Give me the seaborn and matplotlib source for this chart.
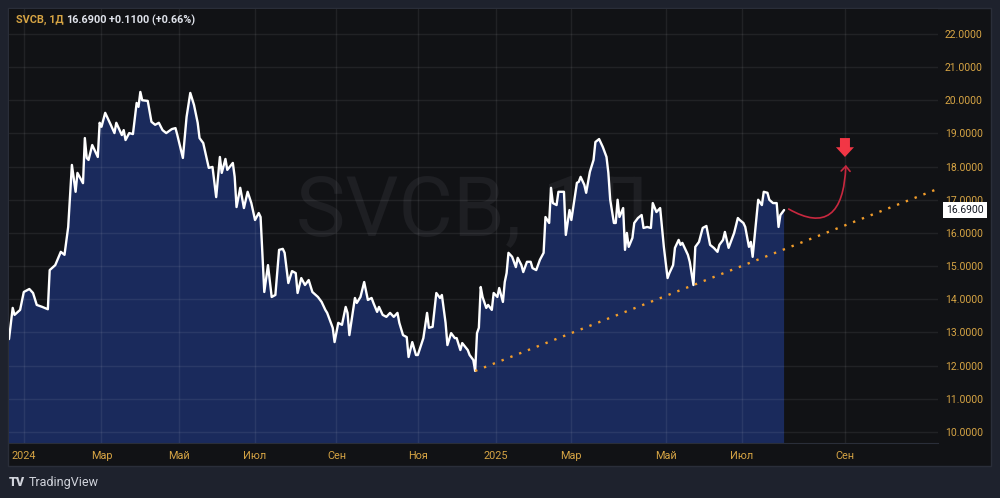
import numpy as np
import pandas as pd
import matplotlib
matplotlib.use("Agg")
import matplotlib.pyplot as plt
import matplotlib.transforms as mtransforms
from matplotlib.path import Path
from matplotlib.patches import FancyArrowPatch, Rectangle
import seaborn as sns

# daily close of SVCB (session = trading-day number from the left edge)
session = [0, 2, 3, 6, 8, 11, 13, 15, 18, 21,
           22, 25, 28, 30, 32, 34, 36, 37, 40, 41,
           42, 43, 45, 48, 49, 50, 52, 55, 57, 58,
           61, 62, 63, 65, 67, 69, 70, 71, 72, 75,
           77, 79, 81, 83, 85, 88, 90, 91, 94, 96,
           98, 100, 102, 103, 105, 108, 110, 112, 114, 115,
           117, 118, 121, 122, 123, 125, 127, 129, 131, 133,
           135, 136, 138, 140, 142, 144, 146, 148, 149, 151,
           153, 155, 156, 158, 160, 162, 164, 167, 169, 171,
           172, 175, 176, 178, 180, 182, 183, 184, 187, 188,
           190, 192, 194, 196, 197, 199, 200, 202, 204, 206,
           208, 210, 211, 213, 215, 216, 218, 220, 221, 224,
           226, 227, 229, 231, 233, 234, 236, 237, 239, 241,
           242, 244, 245, 248, 249, 251, 252, 253, 254, 255,
           256, 258, 259, 261, 262, 264, 265, 267, 268, 269,
           270, 272, 274, 275, 277, 278, 280, 282, 283, 285,
           287, 289, 290, 292, 293, 294, 296, 297, 300, 301,
           303, 304, 307, 308, 309, 311, 312, 314, 316, 317,
           319, 321, 323, 324, 325, 327, 328, 329, 330, 332,
           333, 334, 335, 337, 338, 340, 342, 343, 345, 347,
           348, 350, 352, 354, 356, 357, 359, 360, 362, 363,
           364, 367, 368, 370, 371, 373, 375, 377, 379, 381,
           383, 384, 386, 387, 389, 391, 392, 394, 395, 397,
           398, 400, 401, 402, 404, 405, 407, 408, 410, 411,
           413, 415, 416, 417, 419]
close = [12.80, 13.74, 13.53, 13.68, 14.22, 14.31, 14.19, 13.83, 13.77, 13.70,
         14.88, 15.03, 15.43, 15.34, 16.18, 18.05, 17.24, 17.81, 17.50, 18.86,
         18.26, 18.20, 18.65, 18.29, 19.32, 19.20, 19.62, 19.26, 19.01, 19.32,
         18.95, 19.10, 18.80, 19.01, 18.98, 19.92, 19.80, 20.25, 20.00, 19.98,
         19.35, 19.26, 19.32, 19.10, 19.01, 19.13, 19.16, 18.95, 18.26, 19.50,
         20.22, 19.86, 19.32, 18.86, 18.71, 17.96, 17.99, 17.08, 18.29, 17.81,
         18.23, 17.90, 18.11, 17.69, 16.78, 17.36, 16.75, 17.24, 16.90, 16.39,
         16.60, 16.48, 14.22, 15.03, 14.07, 14.13, 15.49, 15.52, 15.40, 14.49,
         14.85, 14.79, 14.19, 14.64, 14.43, 14.58, 14.22, 14.07, 13.92, 13.68,
         13.59, 13.14, 12.71, 13.29, 13.23, 13.77, 13.59, 12.92, 14.04, 13.89,
         14.07, 14.52, 13.98, 14.04, 13.89, 13.62, 13.77, 13.53, 13.47, 13.59,
         13.47, 13.59, 13.29, 12.92, 12.86, 12.26, 12.71, 12.32, 12.32, 12.83,
         13.59, 13.14, 13.17, 14.19, 14.04, 14.13, 13.29, 12.62, 12.98, 12.83,
         12.83, 12.47, 12.68, 12.47, 12.32, 12.17, 11.84, 12.98, 13.14, 14.37,
         14.07, 13.74, 13.83, 13.68, 14.19, 14.07, 14.34, 13.92, 14.52, 14.79,
         15.40, 15.28, 14.97, 15.25, 15.03, 14.82, 15.13, 15.13, 14.94, 14.88,
         15.19, 15.40, 16.48, 16.30, 17.36, 16.90, 16.84, 17.24, 17.24, 15.94,
         16.69, 16.39, 17.51, 17.54, 17.69, 17.45, 17.21, 17.84, 18.20, 18.74,
         18.83, 18.59, 18.29, 17.81, 17.00, 16.30, 16.30, 17.00, 16.48, 16.75,
         15.49, 16.00, 15.58, 15.85, 16.30, 16.45, 16.54, 16.15, 16.18, 16.15,
         16.90, 16.63, 16.75, 15.58, 14.64, 14.79, 15.03, 15.55, 15.79, 15.64,
         15.70, 15.34, 15.13, 14.43, 15.58, 15.73, 16.15, 16.21, 15.64, 15.55,
         15.43, 15.64, 15.79, 16.03, 15.55, 15.85, 16.00, 16.45, 16.39, 16.30,
         16.18, 15.58, 15.73, 15.28, 16.45, 17.00, 16.84, 17.24, 17.21, 17.00,
         16.90, 16.90, 16.18, 16.54, 16.69]

month_pos = [8, 50, 92, 133, 177, 221, 263, 304, 355, 396, 452]
month_labels = ["2024", "Мар", "Май", "Июл", "Сен", "Ноя", "2025", "Мар", "Май", "Июл", "Сен"]
price_ticks = [10, 11, 12, 13, 14, 15, 16, 17, 18, 19, 20, 21, 22]

# support line through the two lows
trend_session = [252, 370]
trend_price = [11.84, 14.43]

ticker = "SVCB, 1Д"
last_close = 16.69
change = 0.11
change_pct = 0.66

gold = "#d6a444"
panel = "#111215"
frame = "#1e222d"

sns.set_style("dark")
plt.rcParams["font.family"] = ["Roboto", "DejaVu Sans"]

W, H = 1000, 498
fig = plt.figure(figsize=(10, 4.98), dpi=100, facecolor=frame)

def box(x0, y0, x1, y1):
    return [x0 / W, 1 - y1 / H, (x1 - x0) / W, (y1 - y0) / H]

fig.patches.append(Rectangle((8 / W, 1 - 466 / H), 983 / W, 458 / H, transform=fig.transFigure,
                             fc=panel, ec="#2a2e39", lw=1, zorder=-1))

ax = fig.add_axes(box(9, 9, 938, 443))
ax.set_facecolor(panel)
ax.set_xlim(0, 502.2)
ax.set_ylim(9.668, 22.75)

df = pd.DataFrame({"session": session, "close": close})
ax.fill_between(df["session"], df["close"], 0, color="#1a2a5c", lw=0, zorder=1)
sns.lineplot(data=df, x="session", y="close", ax=ax, color="white", lw=1.7, zorder=3)

# watermark
ax.text(0.5, 0.53, ticker, transform=ax.transAxes, ha="center", va="center",
        fontsize=60, color="#1e1f23", zorder=0.6)

# trend line
slope = (trend_price[1] - trend_price[0]) / (trend_session[1] - trend_session[0])
tx = np.array([trend_session[0], 502.2])
ty = trend_price[0] + slope * (tx - trend_session[0])
ax.plot(tx, ty, color="#f29d2b", lw=1.7, linestyle=(0, (1, 3.0)), zorder=4)

# curved red arrow
curve = Path([(421.5, 16.72), (450.8, 15.79), (452.4, 18.05)],
             [Path.MOVETO, Path.CURVE3, Path.CURVE3])
ax.add_patch(FancyArrowPatch(path=curve, arrowstyle="->,head_length=3.6,head_width=3.2",
                             color="#c8283f", lw=1.2, zorder=5))
# block arrow pointing down
ax.annotate("", xy=(451.9, 18.29), xytext=(451.9, 18.86),
            arrowprops=dict(arrowstyle="simple,head_length=0.7,head_width=1.3,tail_width=0.72",
                            mutation_scale=10, fc="#f23645", ec="none", shrinkA=0, shrinkB=0),
            zorder=6)

ax.grid(True, color="white", alpha=0.07, lw=1)
ax.set_axisbelow(False)
for s in ["top", "left", "right"]:
    ax.spines[s].set_visible(False)
ax.spines["bottom"].set_color("#2a2e39")
ax.set_xlabel("")
ax.set_ylabel("")

ax.yaxis.tick_right()
ax.set_yticks(price_ticks, [f"{v:.4f}" for v in price_ticks])
ax.set_xticks(month_pos, month_labels)
ax.tick_params(axis="y", length=0, pad=5, labelcolor=gold, labelsize=7.5)
ax.tick_params(axis="x", length=0, pad=6, labelcolor=gold, labelsize=7.8)

# last price label
trans = mtransforms.blended_transform_factory(ax.transAxes, ax.transData)
ax.text(1 + 8 / 929, last_close, f"{last_close:.4f}", transform=trans, ha="left", va="center",
        fontsize=7.5, color="#131722", clip_on=False, zorder=10,
        bbox=dict(boxstyle="square,pad=0.3", fc="white", ec="none"))

# header
fig.text(16 / W, 1 - 20 / H, ticker, color=gold, fontsize=7.8, weight="bold", va="center")
fig.text(66 / W, 1 - 20 / H, f"{last_close:.4f}", color="#e0e3eb", fontsize=7.8, weight="bold", va="center")
fig.text(109 / W, 1 - 20 / H, f"+{change:.4f} (+{change_pct:.2f}%)", color="#e0e3eb",
         fontsize=7.8, weight="bold", va="center")

# footer logo
fig.text(9 / W, 1 - 482 / H, "TV", color="#d1d4dc", fontsize=9, weight="heavy", va="center")
fig.text(29 / W, 1 - 482 / H, "TradingView", color="#d1d4dc", fontsize=9, va="center")

fig.savefig("out.png", dpi=100, facecolor=fig.get_facecolor())
